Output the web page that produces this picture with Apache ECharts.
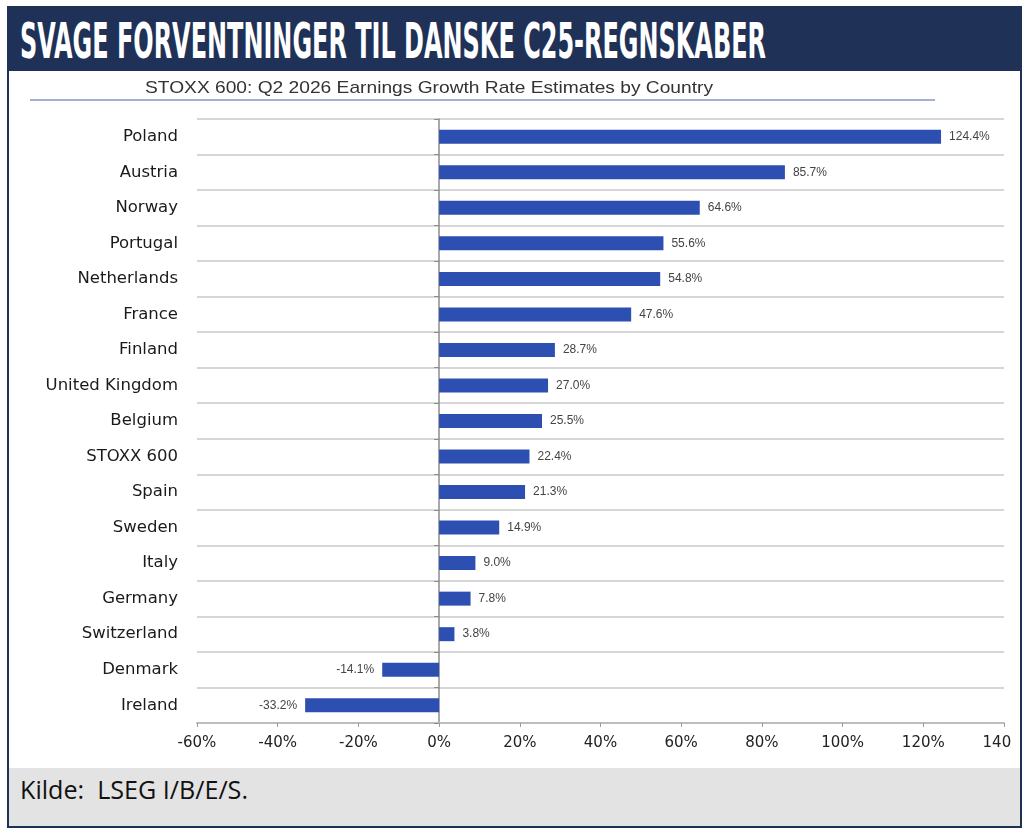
<!DOCTYPE html>
<html>
<head>
<meta charset="utf-8">
<script src="https://cdn.jsdelivr.net/npm/echarts@6/dist/echarts.min.js"></script>
<style>
  html, body { margin: 0; padding: 0; background: #fff; }
  body { width: 1026px; height: 836px; position: relative; overflow: hidden; }
  #frame {
    position: absolute; left: 7px; top: 6px; width: 1011px; height: 818px;
    border: 2px solid #1f3157; background: #fff;
  }
  #head { position: absolute; left: 0; top: 0; width: 100%; height: 63px; background: #1f3157; }
  #foot { position: absolute; left: 0; bottom: 0; width: 100%; height: 58px; background: #e3e3e3; }
  #chart { position: absolute; left: 10px; top: 72px; width: 1001px; height: 694px; }
  #sub { position: absolute; left: 0; top: 72px; }
  svg { position: absolute; left: 0; top: 0; overflow: visible; }
  .pre { white-space: pre; }
</style>
</head>
<body>
<div id="frame">
  <div id="head">
    <svg width="1011" height="63">
      <text x="11" y="50" fill="#fff" font-family="DejaVu Sans Condensed, DejaVu Sans" font-weight="bold"
            font-size="50" textLength="746" lengthAdjust="spacingAndGlyphs">SVAGE FORVENTNINGER TIL DANSKE C25-REGNSKABER</text>
    </svg>
  </div>
  <div id="foot">
    <svg width="1011" height="58">
      <text class="pre" x="11" y="31" fill="#111" font-family="Open Sans" font-size="26"
            textLength="228" lengthAdjust="spacingAndGlyphs">Kilde:  LSEG I/B/E/S.</text>
    </svg>
  </div>
</div>
<div id="chart"></div>
<svg id="sub" width="1026" height="40">
  <text id="subText" x="145" y="21" fill="#333" font-family="Liberation Sans" font-size="17"
        textLength="568" lengthAdjust="spacingAndGlyphs"></text>
  <line x1="30" y1="28" x2="935" y2="28" stroke="#8595c4" stroke-width="1.5"></line>
</svg>
<script>
// chart data
const countries = [
  'Poland', 'Austria', 'Norway', 'Portugal', 'Netherlands', 'France', 'Finland',
  'United Kingdom', 'Belgium', 'STOXX 600', 'Spain', 'Sweden', 'Italy',
  'Germany', 'Switzerland', 'Denmark', 'Ireland',
];
const growth = [
  124.4, 85.7, 64.6, 55.6, 54.8, 47.6, 28.7,
  27.0, 25.5, 22.4, 21.3, 14.9, 9.0,
  7.8, 3.8, -14.1, -33.2,
];
const xMin = -60;
const xMax = 140;
const xStep = 20;

const subtitle = 'STOXX 600: Q2 2026 Earnings Growth Rate Estimates by Country';
document.getElementById('subText').textContent = subtitle;

const chart = echarts.init(document.getElementById('chart'), null, { renderer: 'canvas' });

// negative bars carry their label on the left side
const barData = growth.map((v) => ({
  value: v,
  label: { position: v < 0 ? 'left' : 'right' },
}));

chart.setOption({
  animation: false,
  backgroundColor: 'transparent',
  grid: { left: 187, right: 7, top: 47, bottom: 43, outerBoundsMode: 'none', containLabel: false },
  xAxis: {
    type: 'value',
    min: xMin,
    max: xMax,
    interval: xStep,
    axisLine: { show: true, lineStyle: { color: '#bdbdbd', width: 2 } },
    axisTick: { show: true, length: 4, lineStyle: { color: '#9a9a9a' } },
    splitLine: { show: false },
    axisLabel: {
      margin: 13,
      fontFamily: 'DejaVu Sans',
      fontSize: 15,
      color: '#222',
      formatter: (v) => v + '%',
    },
  },
  yAxis: [{
    type: 'category',
    data: countries,
    inverse: true,
    axisLine: { show: false, onZero: false },
    axisTick: { show: false },
    splitLine: { show: true, lineStyle: { color: '#c9c9c9', width: 1.5 } },
    axisLabel: {
      margin: 19,
      fontFamily: 'DejaVu Sans',
      fontSize: 16.5,
      color: '#1a1a1a',
    },
  }, {
    // zero line with its small boundary ticks
    type: 'category',
    data: countries,
    inverse: true,
    position: 'left',
    axisLine: { show: true, onZero: true, lineStyle: { color: '#8c8c8c', width: 1.5 } },
    axisTick: { show: true, length: 5, lineStyle: { color: '#8c8c8c' } },
    axisLabel: { show: false },
    splitLine: { show: false },
  }],
  series: [{
    type: 'bar',
    data: barData,
    barWidth: 14,
    itemStyle: { color: '#2e4fb2' },
    label: {
      show: true,
      distance: 8,
      fontFamily: 'Liberation Sans',
      fontSize: 12,
      color: '#444',
      formatter: (p) => p.value.toFixed(1) + '%',
    },
  }],
});
</script>
</body>
</html>
